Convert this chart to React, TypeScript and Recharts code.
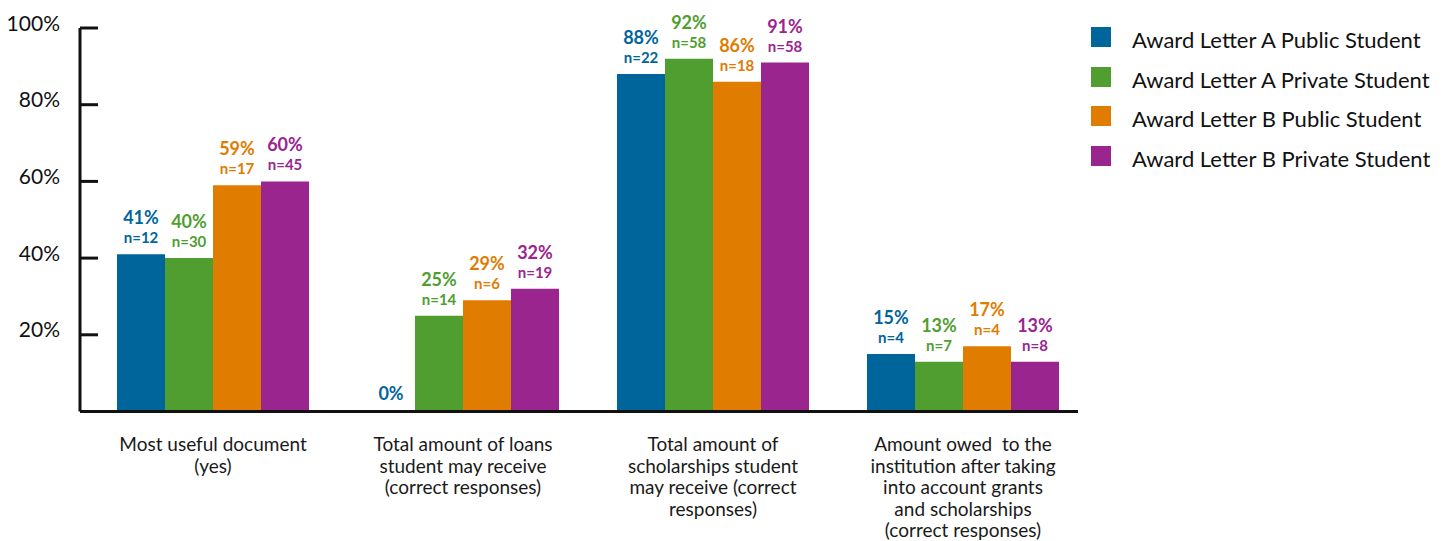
import React from "react";
import { BarChart, Bar, XAxis, YAxis, Legend, LabelList } from "recharts";

// Category labels (line breaks as in the original)
const categories = [
  "Most useful document\n(yes)",
  "Total amount of loans\nstudent may receive\n(correct responses)",
  "Total amount of\nscholarships student\nmay receive (correct\nresponses)",
  "Amount owed  to the\ninstitution after taking\ninto account grants\nand scholarships\n(correct responses)",
];

// Percent values per series
const letterAPublic = [41, 0, 88, 15];
const letterAPrivate = [40, 25, 92, 13];
const letterBPublic = [59, 29, 86, 17];
const letterBPrivate = [60, 32, 91, 13];

// Sample sizes per series (null = not shown)
const nAPublic = [12, null, 22, 4];
const nAPrivate = [30, 14, 58, 7];
const nBPublic = [17, 6, 18, 4];
const nBPrivate = [45, 19, 58, 8];

const yTicks = [20, 40, 60, 80, 100];

const series = [
  { key: "aPublic", name: "Award Letter A Public Student", color: "#00659b", n: nAPublic },
  { key: "aPrivate", name: "Award Letter A Private Student", color: "#509e2f", n: nAPrivate },
  { key: "bPublic", name: "Award Letter B Public Student", color: "#e07c00", n: nBPublic },
  { key: "bPrivate", name: "Award Letter B Private Student", color: "#9a258f", n: nBPrivate },
];

const data = categories.map((category, i) => ({
  category,
  aPublic: letterAPublic[i],
  aPrivate: letterAPrivate[i],
  bPublic: letterBPublic[i],
  bPrivate: letterBPrivate[i],
}));

const INK = "#111";

const YTick = (props: any) => {
  const { x, y, payload } = props;
  return (
    <g>
      <line x1={x + 20} x2={x + 38} y1={y} y2={y} stroke={INK} strokeWidth={3} />
      <text x={x} y={y - 6} textAnchor="end" dominantBaseline="central" fontSize={21} fill={INK}>
        {payload.value}%
      </text>
    </g>
  );
};

const XTick = (props: any) => {
  const { x, y, payload } = props;
  const lines = String(payload.value).split("\n");
  return (
    <g>
      {lines.map((line, i) => (
        <text
          key={i}
          x={x}
          y={y + 32 + i * 21.5}
          textAnchor="middle"
          dominantBaseline="central"
          fontSize={19}
          fill="#1a1a1a"
          style={{ whiteSpace: "pre" }}
        >
          {line}
        </text>
      ))}
    </g>
  );
};

// value passed as "percent|n" built from the row's payload
const makeAccessor = (key: string, n: (number | null)[]) => (entry: any) => {
  const row = entry?.payload ?? {};
  const idx = categories.indexOf(row.category);
  const count = idx >= 0 ? n[idx] : null;
  const pct = row[key] ?? entry?.value;
  return `${pct}|${count == null ? "" : count}`;
};

const makeLabel = (color: string) => (props: any) => {
  const { x, y, width, value } = props;
  const [pct, count] = String(value).split("|");
  const cx = Number(x) + Number(width) / 2;
  const top = Number(y);
  const hasN = count !== "" && count !== undefined;
  return (
    <g>
      <text
        x={cx}
        y={hasN ? top - 37 : top - 18}
        textAnchor="middle"
        dominantBaseline="central"
        fontSize={18}
        fontWeight={700}
        fill={color}
      >
        {pct}%
      </text>
      {hasN && (
        <text
          x={cx}
          y={top - 17}
          textAnchor="middle"
          dominantBaseline="central"
          fontSize={15}
          fontWeight={700}
          fill={color}
        >
          n={count}
        </text>
      )}
    </g>
  );
};

const renderLegend = () => (
  <div>
    {series.map((s) => (
      <div key={s.key} style={{ display: "flex", alignItems: "center", height: 39.7 }}>
        <span style={{ width: 20, height: 20, background: s.color, marginRight: 21, flex: "none" }} />
        <span style={{ fontSize: 22, color: INK, marginTop: 5, whiteSpace: "nowrap" }}>{s.name}</span>
      </div>
    ))}
  </div>
);

const App = () => (
  <div style={{ position: "absolute", left: 0, top: 0, fontFamily: "Lato, sans-serif" }}>
    <BarChart
      width={1450}
      height={541}
      data={data}
      margin={{ top: 28, right: 372, bottom: 9.5, left: 0 }}
      barCategoryGap={29}
      barGap={0}
    >
      <XAxis
        dataKey="category"
        interval={0}
        height={120}
        tickLine={false}
        tickSize={0}
        tickMargin={0}
        axisLine={{ stroke: INK, strokeWidth: 3 }}
        padding={{ left: 8, right: -10 }}
        tick={<XTick />}
      />
      <YAxis
        width={80}
        domain={[0, 100]}
        ticks={yTicks}
        tickLine={false}
        tickSize={0}
        tickMargin={20}
        axisLine={{ stroke: INK, strokeWidth: 3 }}
        tick={<YTick />}
      />
      <Legend
        layout="horizontal"
        align="center"
        verticalAlign="middle"
        content={renderLegend}
        wrapperStyle={{ left: 1091, top: 17, width: 359 }}
      />
      {series.map((s) => (
        <Bar
          key={s.key}
          dataKey={s.key}
          name={s.name}
          fill={s.color}
          isAnimationActive={false}
          minPointSize={(v: any) => (v === 0 ? 0.01 : 0)}
        >
          <LabelList valueAccessor={makeAccessor(s.key, s.n)} content={makeLabel(s.color)} />
        </Bar>
      ))}
    </BarChart>
  </div>
);

export default App;
